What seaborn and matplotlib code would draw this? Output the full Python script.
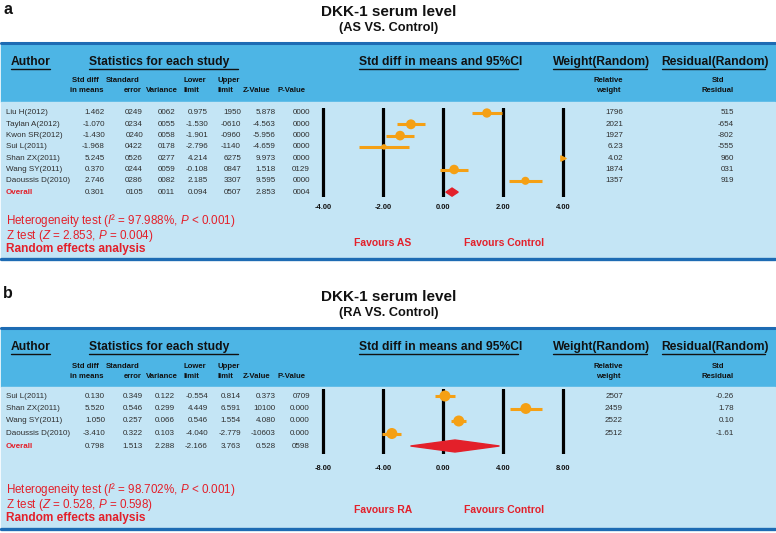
import numpy as np
import pandas as pd
import matplotlib
matplotlib.use("Agg")
import matplotlib.pyplot as plt
from matplotlib.patches import Rectangle, Polygon
import seaborn as sns

# ---- panel a data (AS vs Control) ----
a_authors = ["Liu H(2012)", "Taylan A(2012)", "Kwon SR(2012)", "Sui L(2011)",
             "Shan ZX(2011)", "Wang SY(2011)", "Daoussis D(2010)"]
a_mean = [1.462, -1.070, -1.430, -1.968, 5.245, 0.370, 2.746]
a_lower = [0.975, -1.530, -1.901, -2.796, 4.214, -0.108, 2.185]
a_upper = [1.950, -0.610, -0.960, -1.140, 6.275, 0.847, 3.307]
a_weight = [17.96, 20.21, 19.27, 6.23, 4.02, 18.74, 13.57]
a_overall = [0.301, 0.094, 0.507]  # mean, lower, upper
# table columns as printed (last entry = Overall)
a_se = ["0249", "0234", "0240", "0422", "0526", "0244", "0286", "0105"]
a_var = ["0062", "0055", "0058", "0178", "0277", "0059", "0082", "0011"]
a_upper_txt = ["1950", "-0610", "-0960", "-1140", "6275", "0847", "3307", "0507"]
a_z = ["5.878", "-4.563", "-5.956", "-4.659", "9.973", "1.518", "9.595", "2.853"]
a_p = ["0000", "0000", "0000", "0000", "0000", "0129", "0000", "0004"]
a_weight_txt = ["1796", "2021", "1927", "6.23", "4.02", "1874", "1357"]
a_resid = ["515", "-654", "-802", "-555", "960", "031", "919"]
a_ticks = [-4, -2, 0, 2, 4]
a_het = ["97.988", "2.853", "0.004"]  # I2, Z, P

# ---- panel b data (RA vs Control) ----
b_authors = ["Sui L(2011)", "Shan ZX(2011)", "Wang SY(2011)", "Daoussis D(2010)"]
b_mean = [0.130, 5.520, 1.050, -3.410]
b_lower = [-0.554, 4.449, 0.546, -4.040]
b_upper = [0.814, 6.591, 1.554, -2.779]
b_weight = [25.07, 24.59, 25.22, 25.12]
b_overall = [0.798, -2.166, 3.763]
b_se = ["0.349", "0.546", "0.257", "0.322", "1.513"]
b_var = ["0.122", "0.299", "0.066", "0.103", "2.288"]
b_upper_txt = ["0.814", "6.591", "1.554", "-2.779", "3.763"]
b_z = ["0.373", "10100", "4.080", "-10603", "0.528"]
b_p = ["0709", "0.000", "0.000", "0.000", "0598"]
b_weight_txt = ["2507", "2459", "2522", "2512"]
b_resid = ["-0.26", "1.78", "0.10", "-1.61"]
b_ticks = [-8, -4, 0, 4, 8]
b_het = ["98.702", "0.528", "0.598"]

sns.set_theme(style="white")
plt.rcParams["font.family"] = ["Liberation Sans", "DejaVu Sans"]
plt.rcParams["mathtext.fontset"] = "custom"
plt.rcParams["mathtext.rm"] = "Liberation Sans"
plt.rcParams["mathtext.it"] = "Liberation Sans:italic"

W, H = 776, 533
fig = plt.figure(figsize=(W / 100, H / 100), dpi=100)
canvas = fig.add_axes([0, 0, 1, 1])
canvas.set_xlim(0, W)
canvas.set_ylim(H, 0)
canvas.axis("off")

ORANGE = "#F5A014"
RED = "#E3202A"
BAND = "#4DB5E5"
LIGHT = "#C4E5F5"
EDGE = "#1D6BB3"
DARK = "#111111"
GREY = "#2E2E2E"


def txt(x, y, s, size, ha="left", weight="normal", color=DARK):
    canvas.text(x, y, s, fontsize=size, ha=ha, va="center",
                fontweight=weight, color=color)


def panel(y0, letter, subtitle, authors, mean, lower, upper, weight, overall,
          se, var, upper_txt, z, p, weight_txt, resid, ticks, het, first, row_h,
          body_bottom, axis_top, axis_bottom, tick_y, fav_y, foot_y, group,
          diamond_h):
    n = len(authors)
    # background boxes
    canvas.add_patch(Rectangle((1, y0 + 43), W - 2, 59, color=BAND, zorder=0))
    canvas.add_patch(Rectangle((1, y0 + 102), W - 2, body_bottom - (y0 + 102),
                               color=LIGHT, zorder=0))
    canvas.plot([1, W - 1], [y0 + 43, y0 + 43], color=EDGE, lw=2.2, zorder=1)
    canvas.plot([1, W - 1], [body_bottom + 1, body_bottom + 1], color=EDGE,
                lw=2.4, zorder=1)

    # titles
    txt(3, y0 + 9, letter, 11.5, weight="bold")
    txt(389, y0 + 12, "DKK-1 serum level", 11, ha="center", weight="bold")
    txt(389, y0 + 28, subtitle, 9.2, ha="center", weight="bold")

    # column headers with underline
    hy = y0 + 62
    for x, s in [(11, "Author"), (89, "Statistics for each study"),
                 (359, "Std diff in means and 95%CI"),
                 (553, "Weight(Random)"), (661, "Residual(Random)")]:
        txt(x, hy, s, 8.7, weight="bold")
    for x0, x1 in [(11, 50), (89, 238), (359, 518), (553, 647), (662, 765)]:
        canvas.plot([x0, x1], [hy + 7, hy + 7], color=DARK, lw=1.0)

    l1, l2 = y0 + 81, y0 + 91
    for x, s in [(72, "Std diff"), (106, "Standard"), (183, "Lower"), (217, "Upper")]:
        txt(x, l1, s, 5.6, weight="bold")
    for x, s in [(70, "in means"), (124, "error"), (146, "Variance"), (183, "limit"),
                 (218, "limit"), (243, "Z-Value"), (277, "P-Value")]:
        txt(x, l2, s, 5.6, weight="bold")
    txt(608, l1, "Relative", 5.6, ha="center", weight="bold")
    txt(608, l2, "weight", 5.6, ha="center", weight="bold")
    txt(718, l1, "Std", 5.6, ha="center", weight="bold")
    txt(718, l2, "Residual", 5.6, ha="center", weight="bold")

    # table rows
    means_txt = ["%.3f" % v for v in mean + [overall[0]]]
    lower_txt = ["%.3f" % v for v in lower + [overall[1]]]
    names = authors + ["Overall"]
    for i in range(n + 1):
        y = first + i * row_h
        if i == n:
            txt(6, y, names[i], 5.8, weight="bold", color=RED)
        else:
            txt(6, y, names[i], 5.8, color=GREY)
        for xr, s in [(105, means_txt[i]), (143, se[i]), (175, var[i]),
                      (208, lower_txt[i]), (241, upper_txt[i]), (276, z[i]),
                      (310, p[i])]:
            txt(xr, y, s, 5.8, ha="right", color=GREY)
        if i < n:
            txt(623, y, weight_txt[i], 5.8, ha="right", color=GREY)
            txt(734, y, resid[i], 5.8, ha="right", color=GREY)

    # footer text
    txt(6, foot_y[0], "Heterogeneity test ($I$\u00b2 = %s%%, $P$ < 0.001)" % het[0],
        8.4, color=RED)
    txt(6, foot_y[1], "Z test ($Z$ = %s, $P$ = %s)" % (het[1], het[2]), 8.4, color=RED)
    txt(6, foot_y[2], "Random effects analysis", 8.6, weight="bold", color=RED)
    txt(383, fav_y, "Favours " + group, 7.5, ha="center", weight="bold", color=RED)
    txt(504, fav_y, "Favours Control", 7.5, ha="center", weight="bold", color=RED)

    # forest plot axes
    lim = ticks[-1] * 1.1
    px_l, px_r = 311, 575
    fax = fig.add_axes([px_l / W, 1 - axis_bottom / H, (px_r - px_l) / W,
                        (axis_bottom - axis_top) / H])
    fax.patch.set_alpha(0)
    for s in fax.spines.values():
        s.set_visible(False)
    fax.set_xlim(-lim, lim)
    top_off = (first - axis_top) / row_h
    bot_off = (axis_bottom - (first + n * row_h)) / row_h
    fax.set_ylim(n + bot_off, -top_off)
    for t in ticks:
        fax.axvline(t, color="black", lw=2.3, zorder=1)
    fax.set_xticks(ticks)
    fax.set_xticklabels(["%.2f" % t for t in ticks], fontsize=5.4,
                        fontweight="bold", color=DARK)
    fax.tick_params(axis="x", length=0, pad=(tick_y - axis_bottom - 4) * 0.72)
    fax.set_yticks([])
    fax.grid(False)

    df = pd.DataFrame({"row": range(n), "mean": mean, "lower": lower,
                       "upper": upper, "weight": weight})
    inside = df[df["mean"] <= ticks[-1]]
    outside = df[df["mean"] > ticks[-1]]
    fax.hlines(inside["row"], inside["lower"], inside["upper"], color=ORANGE,
               lw=2.2, zorder=2)
    sns.scatterplot(data=inside, x="mean", y="row", size="weight",
                    sizes=(0, 2.5 * 30), size_norm=(0, 30), color=ORANGE,
                    linewidth=0, legend=False, ax=fax, zorder=3)
    if len(outside):
        fax.scatter([ticks[-1]] * len(outside), outside["row"], marker=">",
                    s=14, color=ORANGE, zorder=3)
    m, lo, hi = overall
    fax.add_patch(Polygon([(lo, n), (m, n - diamond_h), (hi, n), (m, n + diamond_h)],
                          closed=True, color=RED, zorder=3))
    fax.set_xlabel("")
    fax.set_ylabel("")


panel(0, "a", "(AS VS. Control)", a_authors, a_mean, a_lower, a_upper, a_weight,
      a_overall, a_se, a_var, a_upper_txt, a_z, a_p, a_weight_txt, a_resid,
      a_ticks, a_het, 113, 11.3, 258, 108, 197, 208, 243, (220.5, 236, 249), "AS", 0.36)
panel(285, "b", "(RA VS. Control)", b_authors, b_mean, b_lower, b_upper, b_weight,
      b_overall, b_se, b_var, b_upper_txt, b_z, b_p, b_weight_txt, b_resid,
      b_ticks, b_het, 396, 12.5, 528, 389, 454, 469, 510, (490, 505, 518), "RA", 0.48)

fig.savefig("out.png", dpi=100)
